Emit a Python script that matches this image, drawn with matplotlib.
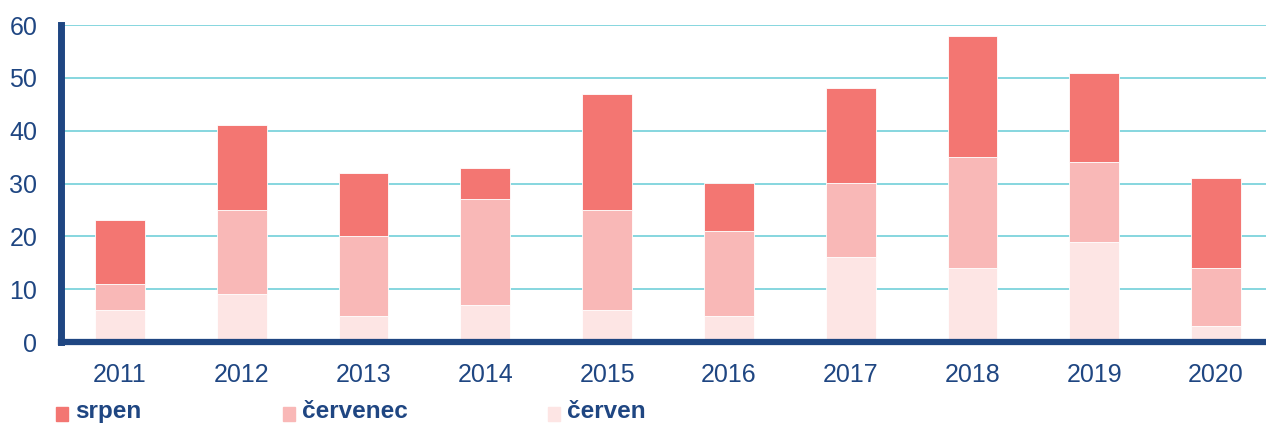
import numpy as np
import matplotlib
matplotlib.use("Agg")
import matplotlib.pyplot as plt
from matplotlib.patches import Rectangle

plt.rcParams["font.family"] = ["Liberation Sans", "DejaVu Sans"]

years = ["2011", "2012", "2013", "2014", "2015", "2016", "2017", "2018", "2019", "2020"]
cerven = [6, 9, 5, 7, 6, 5, 16, 14, 19, 3]
cervenec = [5, 16, 15, 20, 19, 16, 14, 21, 15, 11]
srpen = [12, 16, 12, 6, 22, 9, 18, 23, 17, 17]

c_srpen = "#F37672"
c_cervenec = "#F9B8B7"
c_cerven = "#FDE5E4"
navy = "#1F4682"
grid_c = "#7DD3DC"

fig = plt.figure(figsize=(12.66, 4.23), dpi=100)
ax = fig.add_axes([61 / 1266, 1 - 342 / 423, 1 - 61 / 1266, (342 - 25) / 423])

x = np.arange(len(years))
w = 0.41
b1 = np.array(cerven)
b2 = b1 + np.array(cervenec)
ax.bar(x, cerven, w, color=c_cerven, edgecolor="white", lw=0.6, zorder=3)
ax.bar(x, cervenec, w, bottom=b1, color=c_cervenec, edgecolor="white", lw=0.6, zorder=3)
ax.bar(x, srpen, w, bottom=b2, color=c_srpen, edgecolor="white", lw=0.6, zorder=3)

ax.set_ylim(0, 60)
ax.set_xlim(-0.484, 9.41)
ax.set_yticks(range(0, 61, 10))
ax.set_xticks(x)
ax.set_xticklabels(years)
ax.yaxis.grid(True, color=grid_c, lw=1.3, zorder=0)
ax.tick_params(axis="both", length=0, labelsize=18, colors=navy)
ax.tick_params(axis="y", pad=17)
ax.tick_params(axis="x", pad=15)

for s in ["top", "right"]:
    ax.spines[s].set_visible(False)
ax.spines["left"].set_color(navy)
ax.spines["left"].set_linewidth(5)
ax.spines["bottom"].set_color(navy)
ax.spines["bottom"].set_linewidth(4.5)
ax.spines["left"].set_zorder(5)
ax.spines["bottom"].set_zorder(5)

# legend row at the bottom edge
labels = ["srpen", "červenec", "červen"]
colors = [c_srpen, c_cervenec, c_cerven]
xs = [56, 283, 548]
for px, lab, col in zip(xs, labels, colors):
    fig.patches.append(Rectangle((px / 1266, 1 - 421 / 423), 12 / 1266, 14 / 423,
                                 transform=fig.transFigure, color=col))
    fig.text((px + 19) / 1266, 1 - 418 / 423, lab, fontsize=17.5, fontweight="bold",
             color=navy, va="baseline", ha="left")

fig.savefig("out.png", dpi=100)
